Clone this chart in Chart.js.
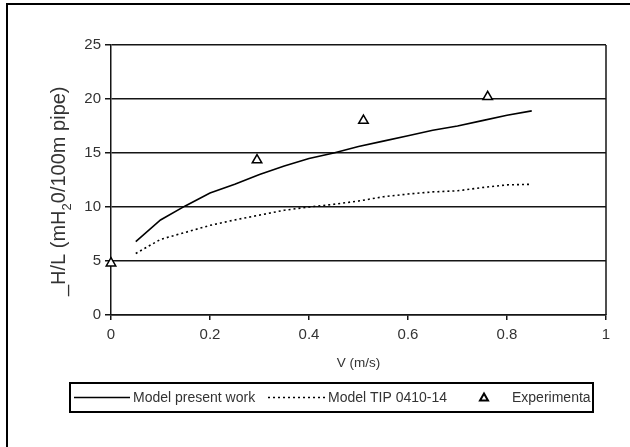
<!DOCTYPE html>
<html>
<head>
<meta charset="utf-8">
<script src="https://cdn.jsdelivr.net/npm/chart.js@4/dist/chart.umd.min.js"></script>
<style>
	html, body { margin: 0; padding: 0; background: #fff; overflow: hidden; }
	#wrap { position: relative; width: 630px; height: 447px; }
</style>
</head>
<body>
<div id="wrap"><canvas id="chart" width="630" height="447"></canvas></div>
<script>
// Head loss per 100 m pipe vs velocity: two models + experimental points.
const velocity = [0.05, 0.1, 0.15, 0.2, 0.25, 0.3, 0.35, 0.4, 0.45, 0.5, 0.55, 0.6, 0.65, 0.7, 0.75, 0.8, 0.85];
const modelPresent = [6.8, 8.8, 10.1, 11.3, 12.1, 13.0, 13.8, 14.5, 15.0, 15.6, 16.1, 16.6, 17.1, 17.5, 18.0, 18.5, 18.9];
const modelTip = [5.7, 7.0, 7.65, 8.3, 8.8, 9.25, 9.7, 10.0, 10.25, 10.55, 10.95, 11.2, 11.4, 11.5, 11.8, 12.05, 12.1];
const expVelocity = [0, 0.295, 0.51, 0.761];
const expHeadLoss = [4.8, 14.35, 18.0, 20.2];
const seriesLabels = ['Model present work', 'Model TIP 0410-14', 'Experimenta'];
const yTitleParts = ['_H/L (mH', '2', '0/100m pipe)'];
const xTitle = 'V (m/s)';

const COLORS = {
	line: '#000',
	grid: '#151515',
	text: '#333',
};
const FONT = '"Liberation Sans", Arial, sans-serif';

function pairs(xs, ys) {
	return xs.map((x, i) => ({ x: x, y: ys[i] }));
}

// outer frame + right edge of the plot box
const framePlugin = {
	id: 'frame',
	beforeDraw(chart) {
		const ctx = chart.ctx;
		ctx.save();
		ctx.fillStyle = '#fff';
		ctx.fillRect(0, 0, chart.width, chart.height);
		ctx.strokeStyle = '#000';
		ctx.lineWidth = 2;
		ctx.strokeRect(7, 4, 700, 500);
		ctx.restore();
	},
	afterDatasetsDraw(chart) {
		const { top, right, bottom } = chart.chartArea;
		const ctx = chart.ctx;
		ctx.save();
		ctx.strokeStyle = COLORS.grid;
		ctx.lineWidth = 1.5;
		ctx.beginPath();
		ctx.moveTo(right, top);
		ctx.lineTo(right, bottom);
		ctx.stroke();
		ctx.restore();
	},
};

// rotated y title with a real subscript
const yTitlePlugin = {
	id: 'yTitle',
	afterDraw(chart) {
		const ctx = chart.ctx;
		ctx.save();
		ctx.translate(65, 296);
		ctx.rotate(-Math.PI / 2);
		ctx.fillStyle = COLORS.text;
		ctx.textBaseline = 'alphabetic';
		ctx.textAlign = 'left';
		ctx.font = '20px ' + FONT;
		let x = 0;
		ctx.fillText(yTitleParts[0], x, 0);
		x += ctx.measureText(yTitleParts[0]).width;
		ctx.font = '13px ' + FONT;
		ctx.fillText(yTitleParts[1], x, 6);
		x += ctx.measureText(yTitleParts[1]).width;
		ctx.font = '20px ' + FONT;
		ctx.fillText(yTitleParts[2], x, 0);
		ctx.restore();
	},
};

// boxed legend under the plot
const LEGEND_BOX = { x: 70, y: 383, w: 523, h: 29 };
const LEGEND_ITEMS = [
	{ x0: 74, x1: 130, tx: 133 },
	{ x0: 268, x1: 325, tx: 328 },
	{ x0: 484, x1: 484, tx: 512 },
];
const legendPlugin = {
	id: 'boxLegend',
	afterDraw(chart) {
		const ctx = chart.ctx;
		const cy = LEGEND_BOX.y + LEGEND_BOX.h / 2;
		ctx.save();
		ctx.strokeStyle = '#000';
		ctx.lineWidth = 2;
		ctx.strokeRect(LEGEND_BOX.x, LEGEND_BOX.y, LEGEND_BOX.w, LEGEND_BOX.h);
		ctx.beginPath();
		ctx.rect(LEGEND_BOX.x, LEGEND_BOX.y, LEGEND_BOX.w, LEGEND_BOX.h);
		ctx.clip();
		chart.data.datasets.forEach((ds, i) => {
			const it = LEGEND_ITEMS[i];
			ctx.strokeStyle = ds.borderColor;
			ctx.lineWidth = ds.borderWidth;
			if (ds.showLine) {
				ctx.setLineDash(ds.borderDash || []);
				ctx.beginPath();
				ctx.moveTo(it.x0, cy);
				ctx.lineTo(it.x1, cy);
				ctx.stroke();
				ctx.setLineDash([]);
			} else {
				ctx.fillStyle = ds.pointBackgroundColor;
				ctx.lineWidth = 2;
				ctx.beginPath();
				ctx.moveTo(it.x0, cy - 4);
				ctx.lineTo(it.x0 + 4, cy + 3);
				ctx.lineTo(it.x0 - 4, cy + 3);
				ctx.closePath();
				ctx.fill();
				ctx.stroke();
			}
			ctx.fillStyle = COLORS.text;
			ctx.font = '14px ' + FONT;
			ctx.textBaseline = 'middle';
			ctx.fillText(ds.label, it.tx, cy + 1);
		});
		ctx.restore();
	},
};

function makeChartCfg() {
	return {
		type: 'scatter',
		data: {
			datasets: [
				{
					label: seriesLabels[0],
					data: pairs(velocity, modelPresent),
					showLine: true,
					borderColor: COLORS.line, borderWidth: 1.6,
					pointRadius: 0, tension: 0,
				},
				{
					label: seriesLabels[1],
					data: pairs(velocity, modelTip),
					showLine: true,
					borderColor: COLORS.line, borderWidth: 1.6, borderDash: [2, 3],
					pointRadius: 0, tension: 0,
				},
				{
					label: seriesLabels[2],
					data: pairs(expVelocity, expHeadLoss),
					showLine: false,
					pointStyle: 'triangle', pointRadius: 5.5,
					borderColor: COLORS.line, borderWidth: 1.5,
					pointBackgroundColor: '#fff', pointBorderColor: COLORS.line, pointBorderWidth: 1.5,
					clip: false,
				},
			],
		},
		options: {
			responsive: false,
			animation: false,
			layout: { padding: { top: 45, right: 24, left: 0, bottom: 72 } },
			plugins: {
				legend: { display: false },
				tooltip: { enabled: false },
			},
			scales: {
				x: {
					type: 'linear', min: 0, max: 1,
					afterFit(scale) { scale.height = 60; },
					ticks: {
						stepSize: 0.2, color: COLORS.text, font: { size: 15, family: FONT }, padding: 6, maxRotation: 0,
						callback(v) { return String(Number(v.toFixed(1))); },
					},
					grid: { drawOnChartArea: false, drawTicks: true, tickLength: 5, color: COLORS.grid, lineWidth: 1.5 },
					border: { color: COLORS.grid, width: 1.5 },
					title: {
						display: true, text: xTitle, color: COLORS.text,
						font: { size: 13.5, family: FONT }, padding: { top: 0, bottom: 4 },
					},
				},
				y: {
					type: 'linear', min: 0, max: 25,
					afterFit(scale) { scale.width = 111; },
					ticks: { stepSize: 5, color: COLORS.text, font: { size: 15, family: FONT }, padding: 4 },
					grid: { color: COLORS.grid, lineWidth: 1.5, tickLength: 6 },
					border: { color: COLORS.grid, width: 1.5 },
				},
			},
		},
		plugins: [framePlugin, yTitlePlugin, legendPlugin],
	};
}

const chart = new Chart(document.getElementById('chart').getContext('2d'), makeChartCfg());
</script>
</body>
</html>
